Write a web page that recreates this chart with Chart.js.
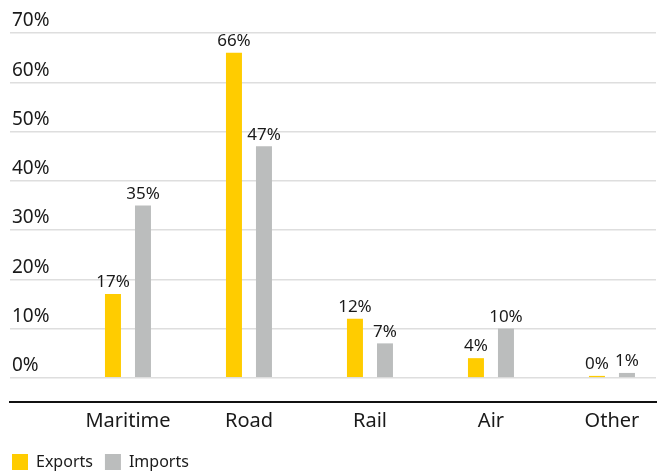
<!DOCTYPE html>
<html>
<head>
<meta charset="utf-8">
<script src="https://cdn.jsdelivr.net/npm/chart.js@4/dist/chart.umd.min.js"></script>
<style>
  html, body { margin: 0; padding: 0; background: #fff; }
  #wrap { position: relative; width: 660px; height: 472px; }
</style>
</head>
<body>
<div id="wrap"><canvas id="chartBar"></canvas></div>
<script>
'use strict';
var categories = ['Maritime', 'Road', 'Rail', 'Air', 'Other'];
var exportsData = [17, 66, 12, 4, 0.4];
var importsData = [35, 47, 7, 10, 1];
var exportsLabels = ['17%', '66%', '12%', '4%', '0%'];
var importsLabels = ['35%', '47%', '7%', '10%', '1%'];
var yTicks = [0, 10, 20, 30, 40, 50, 60, 70];

var textColor = '#1a1a1a';
Chart.defaults.font.family = '"Noto Sans", sans-serif';

// value labels above each bar
var barLabels = {
	id: 'barLabels',
	afterDatasetsDraw: function(chart) {
		var ctx = chart.ctx;
		ctx.save();
		ctx.font = '17px "Noto Sans", sans-serif';
		ctx.fillStyle = textColor;
		ctx.textAlign = 'center';
		ctx.textBaseline = 'bottom';
		chart.data.datasets.forEach(function(ds, i) {
			chart.getDatasetMeta(i).data.forEach(function(bar, j) {
				ctx.fillText(ds.valueLabels[j], bar.x, bar.y - 3);
			});
		});
		ctx.restore();
	}
};

new Chart(document.getElementById('chartBar'), {
	type: 'bar',
	data: {
		datasets: [{
			label: 'Exports',
			data: exportsData.map(function(v, i) { return {x: i, y: v}; }),
			valueLabels: exportsLabels,
			backgroundColor: '#ffcc00',
			borderWidth: 0
		}, {
			label: 'Imports',
			data: importsData.map(function(v, i) { return {x: i, y: v}; }),
			valueLabels: importsLabels,
			backgroundColor: '#bbbdbd',
			borderWidth: 0
		}]
	},
	options: {
		responsive: true,
		maintainAspectRatio: false,
		animation: false,
		categoryPercentage: 0.496,
		barPercentage: 0.533,
		layout: { padding: { left: 0, right: 4, top: 33, bottom: -8 } },
		plugins: {
			legend: {
				position: 'bottom',
				align: 'start',
				labels: {
					boxWidth: 16,
					boxHeight: 16,
					padding: 12,
					color: textColor,
					font: { size: 16 }
				}
			},
			tooltip: { enabled: false }
		},
		scales: {
			x: {
				type: 'linear',
				offset: false,
				min: -0.975,
				max: 4.364,
				afterBuildTicks: function(s) {
					s.ticks = categories.map(function(c, i) { return {value: i}; });
				},
				afterFit: function(s) { s.height = 40; },
				grid: { display: false, drawTicks: false },
				border: { display: true, color: '#111', width: 2 },
				ticks: {
					padding: 7,
					maxRotation: 0,
					autoSkip: false,
					color: textColor,
					font: { size: 20 },
					callback: function(v) { return categories[v]; }
				}
			},
			y: {
				min: -4.9,
				max: 70,
				afterBuildTicks: function(s) {
					s.ticks = yTicks.map(function(v) { return {value: v}; });
				},
				afterFit: function(s) { s.width = 10; },
				border: { display: false },
				grid: { color: '#dedede', lineWidth: 1.5, drawTicks: false },
				ticks: {
					mirror: true,
					padding: 2,
					labelOffset: -12,
					color: textColor,
					font: { size: 19 },
					callback: function(v) { return v + '%'; }
				}
			}
		}
	},
	plugins: [barLabels]
});
</script>
</body>
</html>
